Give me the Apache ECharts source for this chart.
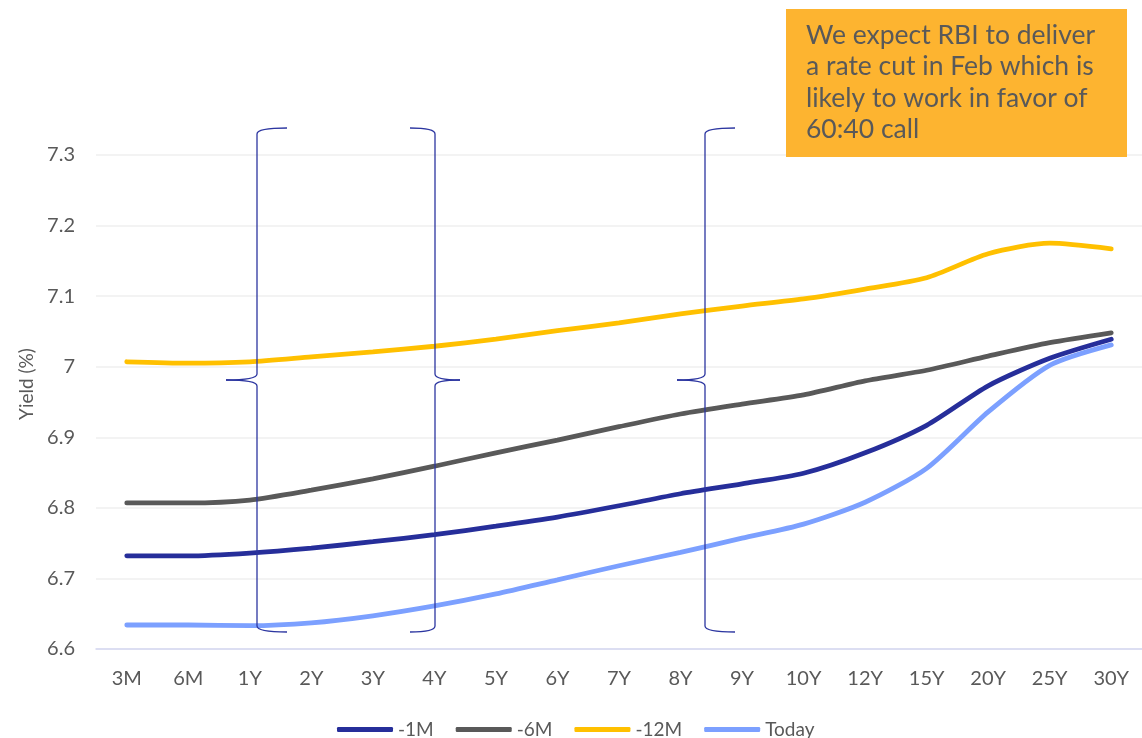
<!DOCTYPE html>
<html><head><meta charset="utf-8">
<script src="https://cdn.jsdelivr.net/npm/echarts@6/dist/echarts.min.js"></script>
<style>html,body{margin:0;padding:0;background:#fff}#c{width:1142px;height:738px}</style>
</head><body><div id="c"></div>
<script>
const categories = ['3M','6M','1Y','2Y','3Y','4Y','5Y','6Y','7Y','8Y','9Y','10Y','12Y','15Y','20Y','25Y','30Y'];
const seriesNames = ['-1M','-6M','-12M','Today'];
const m1 = [6.732,6.732,6.736,6.743,6.752,6.762,6.774,6.787,6.803,6.820,6.834,6.849,6.878,6.917,6.973,7.012,7.039];
const m6 = [6.807,6.807,6.811,6.825,6.841,6.859,6.878,6.896,6.915,6.933,6.947,6.960,6.980,6.995,7.015,7.034,7.048];
const m12 = [7.007,7.005,7.007,7.014,7.021,7.029,7.039,7.051,7.062,7.075,7.086,7.096,7.110,7.126,7.160,7.175,7.167];
const today = [6.634,6.634,6.633,6.637,6.647,6.661,6.678,6.698,6.718,6.737,6.757,6.777,6.808,6.856,6.936,7.002,7.031];
const yTicks = [6.6,6.7,6.8,6.9,7.0,7.1,7.2,7.3];
const yTitle = 'Yield (%)';
const note = 'We expect RBI to deliver\na rate cut in Feb which is\nlikely to work in favor of\n60:40 call';

const colors = ['#262E9A','#595959','#FFC000','#7CA0FF'];
const FONT = 'Lato';
const chart = echarts.init(document.getElementById('c'));

function brace(xv, tipX, endX, y1, ym, y2) {
  const st = {fill:null, stroke:'#2B35A0', lineWidth:1.3};
  const mk = (type, shape) => ({type, shape, style:st, z:50, silent:true});
  return [
    mk('bezierCurve', {x1:endX, y1:y1, cpx1:xv, cpy1:y1, x2:xv, y2:y1+6}),
    mk('line', {x1:xv, y1:y1+6, x2:xv, y2:ym-6}),
    mk('bezierCurve', {x1:xv, y1:ym-6, cpx1:xv, cpy1:ym, x2:tipX, y2:ym}),
    mk('bezierCurve', {x1:tipX, y1:ym, cpx1:xv, cpy1:ym, x2:xv, y2:ym+6}),
    mk('line', {x1:xv, y1:ym+6, x2:xv, y2:y2-6}),
    mk('bezierCurve', {x1:xv, y1:y2-6, cpx1:xv, cpy1:y2, x2:endX, y2:y2})
  ];
}

const series = [m1,m6,m12,today].map((d,i)=>({
  name: seriesNames[i], type:'line', data:d, smooth:0.25, showSymbol:false, symbol:'none',
  lineStyle:{width:4.8, color:colors[i], cap:'round'}, itemStyle:{color:colors[i]}, z: i===3?4:3
}));

chart.setOption({
  animation:false,
  textStyle:{fontFamily:FONT},
  grid:{left:96, top:155, width:1057, bottom:89, containLabel:false},
  legend:{bottom:-6, left:332, icon:'roundRect', itemWidth:56, itemHeight:5, itemGap:22,
    textStyle:{fontSize:19, color:'#595959', fontFamily:FONT}, data:seriesNames},
  xAxis:{type:'category', data:categories, boundaryGap:true,
    axisLine:{lineStyle:{color:'#D5D8F2', width:1.5}}, axisTick:{show:false},
    axisLabel:{fontSize:20, color:'#595959', margin:20, fontFamily:FONT}},
  yAxis:{type:'value', min:6.6, max:7.3, interval:0.1,
    axisLine:{show:false}, axisTick:{show:false},
    splitLine:{lineStyle:{color:'#EFEFEF', width:1.5}},
    axisLabel:{fontSize:20, color:'#595959', margin:21, fontFamily:FONT,
      formatter:v=>{const r=Math.round(v*10)/10; return yTicks.includes(r)? String(r):'';}}},
  series:series,
  graphic:[].concat(
    brace(257, 226, 287, 128, 380, 632),
    brace(435, 460, 410, 128, 380, 632),
    brace(705, 677, 735, 128, 380, 632),
    [{type:'text', x:27, y:384, rotation:Math.PI/2, z:10,
      style:{text:yTitle, fill:'#595959', font:'19px '+FONT, align:'center', verticalAlign:'middle'}},
     {type:'rect', left:786, top:9, shape:{width:341, height:148}, style:{fill:'#FDB430'}, z:60},
     {type:'text', left:806, top:20, z:61, style:{text:note, fill:'#595959', font:'26.5px '+FONT, lineHeight:31.3}}]
  )
});
</script></body></html>
